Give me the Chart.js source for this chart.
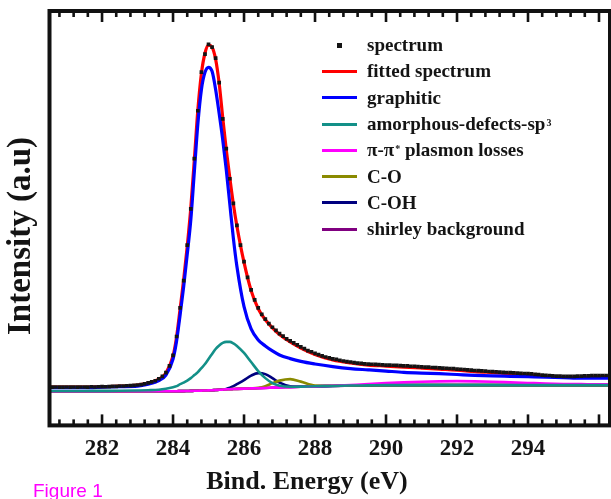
<!DOCTYPE html>
<html>
<head>
<meta charset="utf-8">
<script src="https://cdn.jsdelivr.net/npm/chart.js@4.4.1/dist/chart.umd.min.js"></script>
<style>
html, body { margin: 0; padding: 0; background: #fff; }
#wrap { position: relative; width: 611px; height: 499px; overflow: hidden; }
#xps { display: block; }
#legend { position: absolute; left: 322px; top: 32px; font: bold 19px "Liberation Serif", "Times New Roman", serif; color: #141414; }
#legend .row { height: 26.3px; display: flex; align-items: center; white-space: nowrap; }
#legend .sample { width: 35px; height: 3px; margin-right: 10px; }
#legend .dot { width: 5px; height: 5px; background: #141414; margin: 0 25px 0 15px; }
#legend sup { font-size: 10px; position: relative; top: -4px; vertical-align: baseline; margin-left: 1px; }
#fig { position: absolute; left: 33px; top: 481px; font: 19px "Liberation Sans", Arial, sans-serif; color: #ff00ff; line-height: 1; }
</style>
</head>
<body>
<div id="wrap">
  <!-- canvas a little wider than the window: the right frame is cut by the picture edge -->
  <canvas id="xps" width="614" height="499"></canvas>
  <div id="legend"></div>
  <div id="fig">Figure 1</div>
</div>
<script>
// C1s spectrum (intensity in arbitrary units)
const xTickLabels = [282, 284, 286, 288, 290, 292, 294];

const specEnergy = [
  280.5,280.6,280.7,280.8,280.9,281.0,281.1,281.2,281.3,281.4,
  281.5,281.6,281.7,281.8,281.9,282.0,282.1,282.2,282.3,282.4,
  282.5,282.6,282.7,282.8,282.9,283.0,283.1,283.2,283.3,283.4,
  283.5,283.6,283.7,283.8,283.9,284.0,284.1,284.2,284.3,284.4,
  284.5,284.6,284.7,284.8,284.9,285.0,285.1,285.2,285.3,285.4,
  285.5,285.6,285.7,285.8,285.9,286.0,286.1,286.2,286.3,286.4,
  286.5,286.6,286.7,286.8,286.9,287.0,287.1,287.2,287.3,287.4,
  287.5,287.6,287.7,287.8,287.9,288.0,288.1,288.2,288.3,288.4,
  288.5,288.6,288.7,288.8,288.9,289.0,289.1,289.2,289.3,289.4,
  289.5,289.6,289.7,289.8,289.9,290.0,290.1,290.2,290.3,290.4,
  290.5,290.6,290.7,290.8,290.9,291.0,291.1,291.2,291.3,291.4,
  291.5,291.6,291.7,291.8,291.9,292.0,292.1,292.2,292.3,292.4,
  292.5,292.6,292.7,292.8,292.9,293.0,293.1,293.2,293.3,293.4,
  293.5,293.6,293.7,293.8,293.9,294.0,294.1,294.2,294.3,294.4,
  294.5,294.6,294.7,294.8,294.9,295.0,295.1,295.2,295.3,295.4,
  295.5,295.6,295.7,295.8,295.9,296.0,296.1,296.2
];
const spectrum = [
  9.55,9.5,9.55,9.5,9.5,9.55,9.5,9.55,9.5,9.55,
  9.55,9.5,9.6,9.55,9.6,9.65,9.6,9.65,9.7,9.7,
  9.8,9.8,9.85,9.9,9.95,10.05,10.15,10.3,10.55,10.8,
  11.1,11.6,12.2,13.1,14.8,17.4,22.1,29.2,36.0,44.8,
  53.8,66.3,78.2,87.8,92.3,94.7,94.0,91.3,85.2,76.2,
  68.8,61.3,55.2,49.7,44.8,40.7,36.8,33.7,31.2,29.2,
  27.6,26.4,25.3,24.4,23.6,22.8,22.2,21.5,21.0,20.5,
  20.0,19.5,19.1,18.6,18.3,17.9,17.6,17.3,17.0,16.8,
  16.55,16.4,16.2,16.0,15.85,15.75,15.6,15.5,15.4,15.3,
  15.25,15.2,15.15,15.1,15.05,15.0,15.0,14.95,14.9,14.85,
  14.8,14.8,14.7,14.7,14.6,14.55,14.5,14.5,14.4,14.35,
  14.3,14.25,14.2,14.15,14.1,14.0,13.95,13.9,13.8,13.75,
  13.65,13.6,13.55,13.5,13.4,13.35,13.3,13.25,13.2,13.15,
  13.1,13.05,13.0,12.95,12.9,12.85,12.8,12.7,12.6,12.5,
  12.45,12.4,12.3,12.25,12.25,12.2,12.2,12.2,12.2,12.25,
  12.25,12.3,12.3,12.35,12.35,12.35,12.4,12.4
];

const fitEnergy = [
  280.5,281,281.5,282,282.5,283,283.3,283.6,283.8,284.0,
  284.1,284.2,284.3,284.4,284.5,284.6,284.7,284.8,284.9,285.0,
  285.1,285.2,285.3,285.4,285.5,285.6,285.7,285.8,286.0,286.2,
  286.4,286.6,286.8,287.0,287.3,287.6,288,288.5,289,289.5,
  290,290.5,291,291.5,292,292.5,293,293.5,294,294.5,
  295,295.5,296,296.3
];
const fitted = [
  9.5,9.5,9.5,9.63,9.75,10.0,10.5,11.5,13.0,17.25,
  22.0,29.0,36.25,44.5,54.0,66.0,78.5,87.5,92.5,94.5,
  94.0,91.0,85.0,76.5,68.5,61.5,55.0,49.5,40.5,33.5,
  29.0,26.25,24.25,22.6,20.75,19.25,17.63,16.25,15.5,15.0,
  14.75,14.5,14.25,14.0,13.75,13.38,13.13,12.88,12.63,12.25,
  12.0,12.0,12.13,12.13
];
const graphitic = [
  9.38,9.38,9.38,9.5,9.63,9.75,10.25,11.13,12.5,16.5,
  21.0,27.5,34.5,42.5,51.0,63.0,75.0,83.5,87.75,89.0,
  88.0,83.5,77.5,71.0,63.5,55.0,46.5,39.5,29.5,24.0,
  21.25,19.75,18.5,17.5,16.6,15.9,15.25,14.6,14.1,13.8,
  13.5,13.2,13.0,12.85,12.65,12.45,12.3,12.2,12.1,12.0,
  11.88,11.75,11.75,11.75
];
const amorphous = [
  8.55,8.55,8.56,8.58,8.6,8.68,8.75,8.88,9.13,9.5,
  9.75,10.25,10.63,11.13,11.75,12.5,13.25,14.25,15.25,16.5,
  17.75,19.0,19.88,20.5,20.75,20.75,20.38,19.75,18.0,15.75,
  13.5,11.75,10.5,9.88,9.6,9.63,9.72,9.8,9.9,9.95,
  10,10,10,10,10,10,10,10,10,10,
  10,10,10,10
];
const plasmon = [
  8.5,8.5,8.5,8.5,8.5,8.5,8.5,8.5,8.5,8.5,
  8.5,8.52,8.53,8.55,8.57,8.6,8.62,8.65,8.68,8.7,
  8.75,8.8,8.85,8.9,8.95,9.0,9.04,9.08,9.15,9.2,
  9.25,9.3,9.38,9.45,9.52,9.6,9.7,9.85,10.05,10.25,
  10.5,10.7,10.85,10.95,11.0,10.95,10.85,10.7,10.55,10.4,
  10.3,10.25,10.2,10.2
];
const cO = [
  8.5,8.5,8.5,8.5,8.5,8.5,8.5,8.5,8.5,8.5,
  8.5,8.52,8.53,8.55,8.57,8.6,8.62,8.65,8.68,8.7,
  8.75,8.8,8.85,8.9,8.95,9.0,9.04,9.08,9.15,9.2,
  9.32,9.75,10.5,11.13,11.5,10.88,9.9,9.85,9.9,9.95,
  10,10,10,10,10,10,10,10,10,10,
  10,10,10,10
];
const cOH = [
  8.5,8.5,8.5,8.5,8.5,8.5,8.5,8.5,8.5,8.5,
  8.5,8.52,8.53,8.55,8.57,8.6,8.62,8.65,8.68,8.7,
  8.75,8.8,8.85,8.92,9.05,9.38,9.75,10.25,11.25,12.38,
  13.0,12.75,11.75,10.63,9.75,9.65,9.72,9.8,9.9,9.95,
  10,10,10,10,10,10,10,10,10,10,
  10,10,10,10
];
const shirley = [
  8.5,8.5,8.5,8.5,8.5,8.5,8.5,8.5,8.5,8.5,
  8.5,8.52,8.53,8.55,8.57,8.6,8.62,8.65,8.68,8.7,
  8.75,8.8,8.85,8.9,8.95,9.0,9.04,9.08,9.15,9.2,
  9.25,9.3,9.38,9.45,9.52,9.6,9.7,9.8,9.9,9.95,
  10,10,10,10,10,10,10,10,10,10,
  10,10,10,10
];

const seriesNames = ['spectrum', 'fitted spectrum', 'graphitic', 'amorphous-defects-sp^3',
  'π-π^* plasmon losses', 'C-O', 'C-OH', 'shirley background'];
const seriesColors = ['#141414', '#ff0000', '#0000ff', '#139088', '#ff00ff', '#8a8a00', '#00007f', '#800080'];

const SERIF = '"Liberation Serif", "Times New Roman", serif';

function pts(xs, ys) {
  return ys.map((v, i) => ({ x: xs[i], y: v }));
}
function plainName(s) { return s.replace('^', ''); }

const curves = [fitted, graphitic, amorphous, plasmon, cO, cOH, shirley];
const drawOrder = [2, 1, 3, 4, 5, 6, 7]; // blue on top of red, components under
const widths = [3.2, 3.2, 2.6, 2.6, 2.6, 2.6, 2.6];

const datasets = [{
  label: plainName(seriesNames[0]),
  data: pts(specEnergy, spectrum),
  showLine: false,
  pointStyle: 'rect',
  pointRadius: 2.6,
  pointBorderWidth: 0,
  pointBackgroundColor: seriesColors[0],
  order: 0
}];
curves.forEach((c, i) => {
  datasets.push({
    label: plainName(seriesNames[i + 1]),
    data: pts(fitEnergy, c),
    borderColor: seriesColors[i + 1],
    borderWidth: widths[i],
    pointRadius: 0,
    cubicInterpolationMode: 'monotone',
    order: drawOrder[i]
  });
});

// frame, inward ticks (major every 2 eV, minor every 0.4 eV) and axis titles
const framePlugin = {
  id: 'frame',
  afterDraw(chart) {
    const ctx = chart.ctx;
    const a = chart.chartArea;
    const xs = chart.scales.x;
    ctx.save();
    ctx.fillStyle = '#111';
    for (let k = -3; k <= 35; k++) {
      const v = 282 + 0.4 * k;
      if (v < 280.6 || v > 296.2) continue;
      const px = xs.getPixelForValue(v);
      const len = (k % 5 === 0) ? 11 : 6;
      ctx.fillRect(px - 1.3, a.bottom - len, 2.6, len);
      ctx.fillRect(px - 1.3, a.top, 2.6, len);
    }
    ctx.strokeStyle = '#111';
    ctx.lineWidth = 4;
    ctx.strokeRect(a.left, a.top, a.right - a.left, a.bottom - a.top);

    ctx.fillStyle = '#141414';
    ctx.textAlign = 'center';
    ctx.textBaseline = 'middle';
    ctx.font = 'bold 26px ' + SERIF;
    ctx.fillText('Bind. Energy (eV)', 307, 482);

    ctx.translate(21, 236);
    ctx.rotate(-Math.PI / 2);
    ctx.font = 'bold 33px ' + SERIF;
    ctx.fillText('Intensity (a.u)', 0, 0);
    ctx.restore();
  }
};

new Chart(document.getElementById('xps'), {
  type: 'line',
  data: { datasets },
  options: {
    responsive: false,
    animation: false,
    devicePixelRatio: 1,
    layout: { padding: { top: 11, left: 49.5, right: 0, bottom: 26 } },
    plugins: { legend: { display: false }, tooltip: { enabled: false } },
    scales: {
      x: {
        type: 'linear',
        min: 280.52,
        max: 296.31,
        grid: { display: false, drawTicks: false },
        border: { display: false },
        afterBuildTicks: (s) => { s.ticks = xTickLabels.map(v => ({ value: v })); },
        ticks: {
          padding: 10,
          color: '#141414',
          font: { family: SERIF, size: 23, weight: 'bold' },
          maxRotation: 0
        }
      },
      y: {
        display: false,
        min: 0,
        max: 103
      }
    }
  },
  plugins: [framePlugin]
});

// legend as html so the superscripts stay real text
const legend = document.getElementById('legend');
seriesNames.forEach((name, i) => {
  const row = document.createElement('div');
  row.className = 'row';
  const mark = document.createElement('span');
  if (i === 0) {
    mark.className = 'dot';
  } else {
    mark.className = 'sample';
    mark.style.background = seriesColors[i];
  }
  const txt = document.createElement('span');
  txt.innerHTML = name.replace(/\^(.)/, '<sup>$1</sup>');
  row.appendChild(mark);
  row.appendChild(txt);
  legend.appendChild(row);
});
</script>
</body>
</html>
